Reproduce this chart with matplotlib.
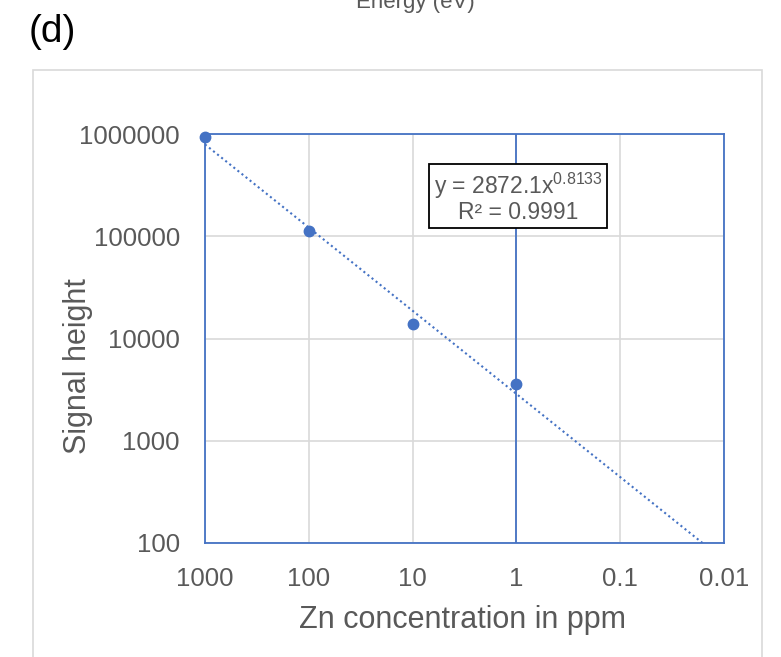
import numpy as np
import matplotlib.pyplot as plt
from matplotlib.patches import Rectangle

plt.rcParams['font.family'] = ['Liberation Sans', 'DejaVu Sans']
plt.rcParams['mathtext.fontset'] = 'custom'
plt.rcParams['mathtext.rm'] = 'Liberation Sans'

# data
conc = [1000, 100, 10, 1]
signal = [930000, 112000, 13900, 3600]

# trendline y = a * x^b
coef_a = 2872.1
coef_b = 0.8133
r2 = 0.9991

xticks = [1000, 100, 10, 1, 0.1, 0.01]
xtick_labels = ['1000', '100', '10', '1', '0.1', '0.01']
yticks = [100, 1000, 10000, 100000, 1000000]
ytick_labels = ['100', '1000', '10000', '100000', '1000000']

blue = '#4472C4'
grey = '#595959'

fig = plt.figure(figsize=(7.81, 6.57), dpi=100)

# outer chart frame
fig.patches.append(Rectangle((33 / 781, -0.05), (762 - 33) / 781, 1.05 - 70 / 657,
                             transform=fig.transFigure, fill=False,
                             edgecolor='#d9d9d9', linewidth=1.2))

fig.text(52 / 781, 1 - 32 / 657, '(d)', fontsize=28, color='black',
         ha='center', va='center')
fig.text(415 / 781, 1 - 8 / 657, 'Energy (eV)', fontsize=16, color=grey,
         ha='center', va='baseline')

ax = fig.add_axes([205 / 781, 1 - 543 / 657, (724 - 205) / 781, (543 - 134) / 657])
ax.set_xscale('log')
ax.set_yscale('log')
ax.set_xlim(1000, 0.01)
ax.set_ylim(100, 1000000)

ax.set_xticks(xticks)
ax.set_xticklabels(xtick_labels)
ax.set_yticks(yticks)
ax.set_yticklabels(ytick_labels)
ax.minorticks_off()
ax.tick_params(length=0, labelsize=18.5, labelcolor=grey)
ax.tick_params(axis='x', pad=17)
ax.tick_params(axis='y', pad=18)

ax.grid(True, color='#d9d9d9', linewidth=1.2)
ax.set_axisbelow(True)
for s in ax.spines.values():
    s.set_color(blue)
    s.set_linewidth(1.3)

# vertical axis crosses at x = 1
ax.axvline(1, color=blue, linewidth=1.3, zorder=2)

# trendline
xt = np.logspace(3, -2, 200)
ax.plot(xt, coef_a * xt ** coef_b, color=blue, linestyle=(0, (1, 1.5)),
        linewidth=1.5, zorder=3)

ax.plot(conc, signal, 'o', color=blue, markersize=7.5, zorder=4, clip_on=False)

eq = 'y = %.1fx$^{\\mathrm{%.4f}}$\nR² = %.4f' % (coef_a, coef_b, r2)
ax.text((518 - 205) / 519, (543 - 197) / 409, eq, transform=ax.transAxes,
        fontsize=16.5, color=grey, ha='center', va='center', linespacing=1.0,
        bbox=dict(boxstyle='square,pad=0.2', facecolor='white', edgecolor='black',
                  linewidth=1.3))

ax.set_xlabel('Zn concentration in ppm', fontsize=22, color=grey)
ax.xaxis.set_label_coords((463 - 205) / 519, (543 - 605) / 409)
ax.set_ylabel('Signal height', fontsize=22, color=grey)
ax.yaxis.set_label_coords((93 - 205) / 519, (543 - 366) / 409)

fig.savefig('out.png', dpi=100)
